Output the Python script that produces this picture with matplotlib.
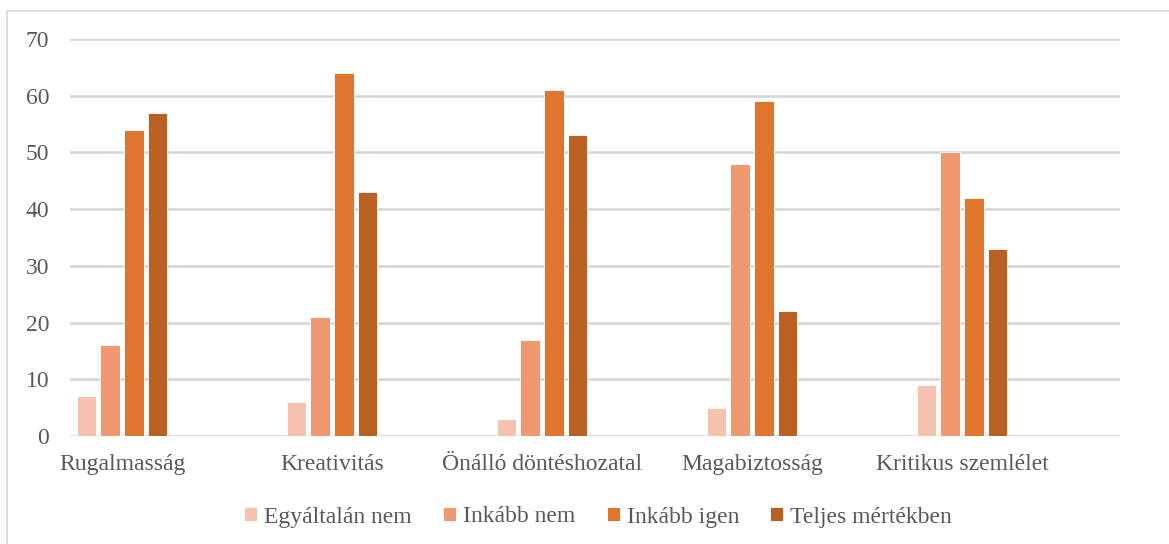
import matplotlib.pyplot as plt
import matplotlib.patches as mpatches
import numpy as np

# Adatok
kategoriak = ["Rugalmasság", "Kreativitás", "Önálló döntéshozatal", "Magabiztosság", "Kritikus szemlélet"]
sorozatok = ["Egyáltalán nem", "Inkább nem", "Inkább igen", "Teljes mértékben"]
egyaltalan_nem = [7, 6, 3, 5, 9]
inkabb_nem = [16, 21, 17, 48, 50]
inkabb_igen = [54, 64, 61, 59, 42]
teljes_mertekben = [57, 43, 53, 22, 33]

szinek = ["#F5C2B0", "#F09970", "#E0752D", "#B96022"]
szurke = "#595959"

plt.rcParams["font.family"] = ["Liberation Serif", "DejaVu Serif"]

fig = plt.figure(figsize=(11.69, 5.44), dpi=100)
ax = fig.add_axes([70 / 1169, 1 - 436 / 544, 1050 / 1169, 397 / 544])

# Keret a diagram körül
fig.patches.append(mpatches.Rectangle((7 / 1169, -0.1), 1.2, 1 - 11 / 544 + 0.1,
                                      transform=fig.transFigure, fill=False,
                                      edgecolor="#D9D9D9", linewidth=1.2))

x = np.arange(len(kategoriak))
kozep = x - 0.252
lepes = 0.113
szelesseg = 0.093
adatok = [egyaltalan_nem, inkabb_nem, inkabb_igen, teljes_mertekben]
for j, (nev, ertekek) in enumerate(zip(sorozatok, adatok)):
    ax.bar(kozep + (j - 1.5) * lepes, ertekek, width=szelesseg, color=szinek[j],
           edgecolor="white", linewidth=0.6, label=nev, zorder=3)

ax.set_xlim(-0.5, 4.5)
ax.set_ylim(0, 70)
ax.set_yticks(range(0, 71, 10))
ax.set_xticks(kozep)
ax.set_xticklabels(kategoriak)
ax.tick_params(axis="both", length=0, labelsize=17, colors=szurke)
ax.tick_params(axis="y", pad=15)
ax.tick_params(axis="x", pad=13)
ax.yaxis.grid(True, color="#D4D4D4", linewidth=1.8, zorder=0)
for s in ax.spines.values():
    s.set_visible(False)

leg = fig.legend(loc="center", bbox_to_anchor=(598 / 1169, 1 - 517 / 544), ncol=4,
                 frameon=False, fontsize=17, handlelength=0.55, handleheight=0.55,
                 handletextpad=0.3, columnspacing=1.33)
for t in leg.get_texts():
    t.set_color(szurke)

plt.savefig("out.png", dpi=100)
plt.close()
